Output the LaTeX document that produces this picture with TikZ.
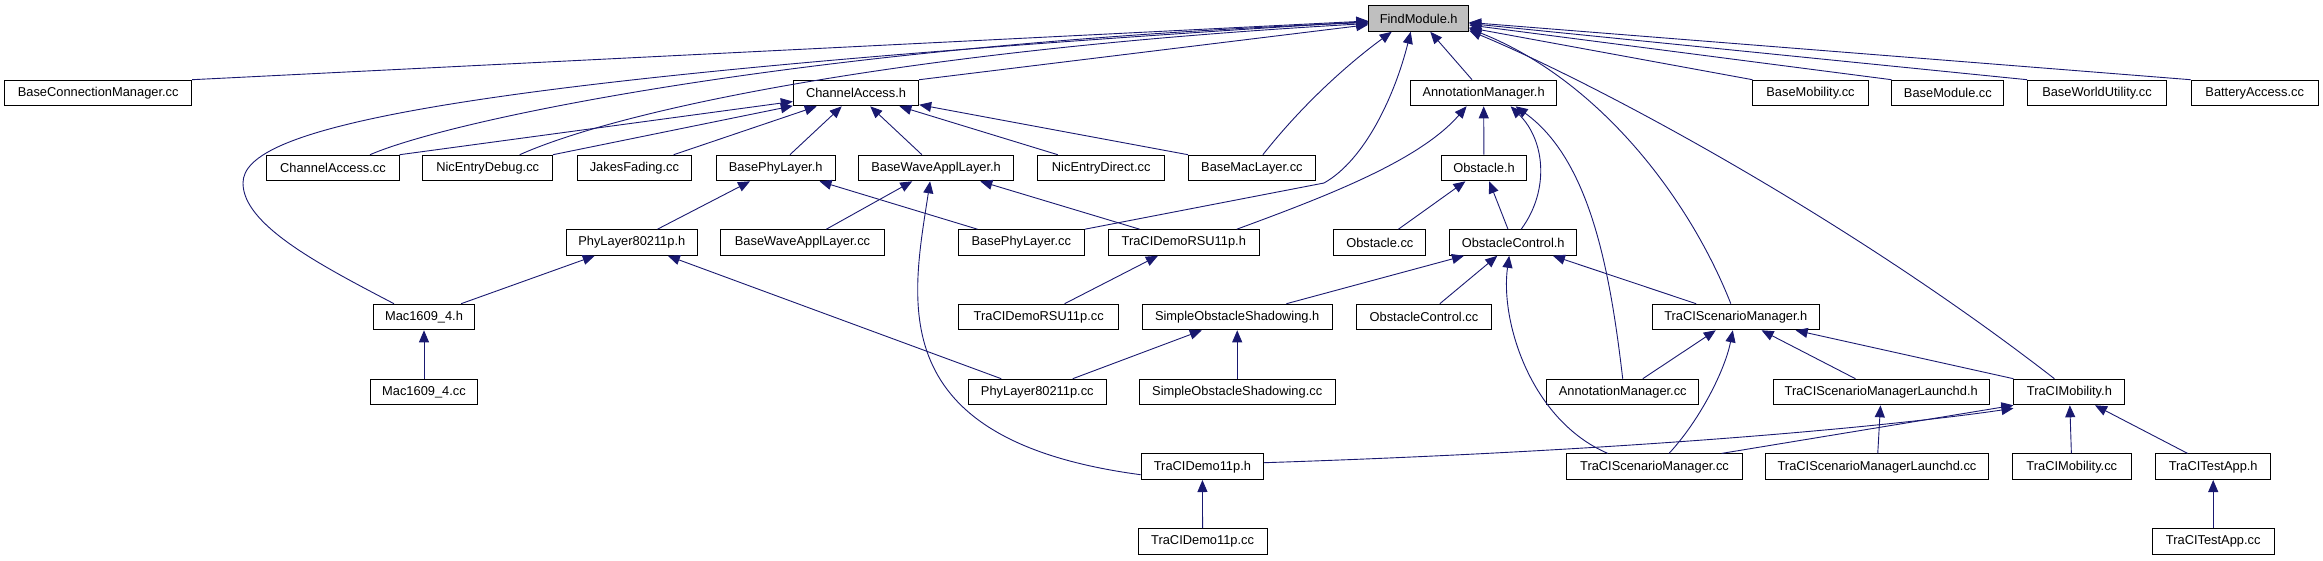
\documentclass[tikz,border=0pt]{standalone}
\usepackage{fontspec}
\setmainfont{Liberation Sans}
\usetikzlibrary{arrows.meta}
\definecolor{edgeblue}{RGB}{25,25,112}
\definecolor{rootgray}{RGB}{191,191,191}
\begin{document}
\begin{tikzpicture}[x=1pt,y=-1pt,
  box/.style={draw=black, line width=0.9pt, fill=white, minimum height=25.7pt, inner sep=0pt,
    font=\fontsize{12.85}{15}\selectfont},
  dep/.style={draw=edgeblue, line width=0.9pt, -{Triangle[length=12pt,width=10pt]}, edgeblue}]
\useasboundingbox (0,0) rectangle (2323,560);
% row 0
\node[box, fill=rootgray, minimum width=100pt] (fm) at (1418.7,18.5) {FindModule.h};
% row 1
\node[box, minimum width=187pt] (bcm) at (98.2,93) {BaseConnectionManager.cc};
\node[box, minimum width=125.5pt] (cah) at (856,93) {ChannelAccess.h};
\node[box, minimum width=145.8pt] (amh) at (1483.6,93) {AnnotationManager.h};
\node[box, minimum width=115.2pt] (bmob) at (1810.5,93) {BaseMobility.cc};
\node[box, minimum width=112pt] (bmod) at (1947.9,93) {BaseModule.cc};
\node[box, minimum width=139pt] (bwu) at (2097,93) {BaseWorldUtility.cc};
\node[box, minimum width=127.5pt] (batt) at (2254.7,93) {BatteryAccess.cc};
% row 2
\node[box, minimum width=132.5pt] (cacc) at (333,168) {ChannelAccess.cc};
\node[box, minimum width=129.7pt] (ned) at (487.7,168) {NicEntryDebug.cc};
\node[box, minimum width=114.6pt] (jf) at (634.4,168) {JakesFading.cc};
\node[box, minimum width=119pt] (bph) at (775.7,168) {BasePhyLayer.h};
\node[box, minimum width=155pt] (bwah) at (936.1,168) {BaseWaveApplLayer.h};
\node[box, minimum width=127pt] (nedir) at (1101.2,168) {NicEntryDirect.cc};
\node[box, minimum width=127pt] (bmac) at (1251.9,168) {BaseMacLayer.cc};
\node[box, minimum width=85.3pt] (obsh) at (1484,168) {Obstacle.h};
% row 3
\node[box, minimum width=130.7pt] (phyh) at (631.8,242.5) {PhyLayer80211p.h};
\node[box, minimum width=163.4pt] (bwacc) at (802.5,242.5) {BaseWaveApplLayer.cc};
\node[box, minimum width=126.3pt] (bphcc) at (1021.3,242.5) {BasePhyLayer.cc};
\node[box, minimum width=150.6pt] (rsuh) at (1183.8,242.5) {TraCIDemoRSU11p.h};
\node[box, minimum width=92.2pt] (obscc) at (1379.8,242.5) {Obstacle.cc};
\node[box, minimum width=127pt] (och) at (1513.2,242.5) {ObstacleControl.h};
% row 4
\node[box, minimum width=100.3pt] (mach) at (424,317) {Mac1609\_4.h};
\node[box, minimum width=159.6pt] (rsucc) at (1038.7,317) {TraCIDemoRSU11p.cc};
\node[box, minimum width=190pt] (sosh) at (1237.2,317) {SimpleObstacleShadowing.h};
\node[box, minimum width=135.1pt] (occ) at (1423.9,317) {ObstacleControl.cc};
\node[box, minimum width=166.6pt] (tsmh) at (1735.8,317) {TraCIScenarioManager.h};
% row 5
\node[box, minimum width=107pt] (maccc) at (424,392) {Mac1609\_4.cc};
\node[box, minimum width=137.8pt] (phycc) at (1037.3,392) {PhyLayer80211p.cc};
\node[box, minimum width=196.2pt] (soscc) at (1237.2,392) {SimpleObstacleShadowing.cc};
\node[box, minimum width=152.3pt] (amcc) at (1622.7,392) {AnnotationManager.cc};
\node[box, minimum width=216.2pt] (tsmlh) at (1881.2,392) {TraCIScenarioManagerLaunchd.h};
\node[box, minimum width=111pt] (tmh) at (2069.4,392) {TraCIMobility.h};
% row 6
\node[box, minimum width=122.7pt] (d11h) at (1202.4,466.7) {TraCIDemo11p.h};
\node[box, minimum width=175.3pt] (tsmcc) at (1654.5,466.7) {TraCIScenarioManager.cc};
\node[box, minimum width=223.1pt] (tsmlcc) at (1877,466.7) {TraCIScenarioManagerLaunchd.cc};
\node[box, minimum width=119pt] (tmcc) at (2071.8,466.7) {TraCIMobility.cc};
\node[box, minimum width=114.8pt] (tah) at (2213.2,466.7) {TraCITestApp.h};
% row 7
\node[box, minimum width=129.2pt] (d11cc) at (1202.6,541.3) {TraCIDemo11p.cc};
\node[box, minimum width=122.5pt] (tacc) at (2213.2,541.3) {TraCITestApp.cc};

\coordinate (bphbend) at (1324,183);
\coordinate (macbend) at (243,183);

% ---- edges to FindModule.h
\draw[dep] (bcm.north east) -- (fm);
\draw[dep] ([xshift=37pt]cacc.north) .. controls (450,120) and (800,45) .. ([yshift=-4pt]fm.west);
\draw[dep] ([xshift=32pt]ned.north) .. controls (620,110) and (900,50) .. ([yshift=-5pt]fm.west);
\draw[dep] ([xshift=-30pt]mach.north) .. controls (320,265) and (243,225) .. (macbend)
   .. controls (243,130) and (420,80) .. ([yshift=-3pt]fm.west);
\draw[dep] (cah.north east) -- (fm);
\draw[dep] ([xshift=11pt]bmac.north) .. controls (1310,95) and (1360,55) .. ([xshift=-27pt]fm.south);
\draw[dep] (bphcc.north east) -- (bphbend) .. controls (1365,160) and (1395,95) .. ([xshift=-8pt]fm.south);
\draw[dep] (amh) -- (fm);
\draw[dep] ([xshift=-5pt]tsmh.north) .. controls (1690,200) and (1600,80) .. ([yshift=-10pt]fm.east);
\draw[dep] ([xshift=-15pt]tmh.north) .. controls (1850,220) and (1600,85) .. ([yshift=-12pt]fm.east);
\draw[dep] (bmob.north west) -- (fm);
\draw[dep] (bmod.north west) -- (fm);
\draw[dep] (bwu.north west) -- (fm);
\draw[dep] (batt.north west) -- (fm);
% ---- edges to ChannelAccess.h
\draw[dep] (cacc.north east) -- (cah);
\draw[dep] (ned.north east) -- (cah);
\draw[dep] (jf) -- (cah);
\draw[dep] (bph) -- (cah);
\draw[dep] (bwah) -- (cah);
\draw[dep] (nedir) -- (cah);
\draw[dep] (bmac.north west) -- (cah);
% ---- BasePhyLayer.h, BaseWaveApplLayer.h
\draw[dep] (phyh) -- (bph);
\draw[dep] (bphcc) -- (bph);
\draw[dep] (bwacc) -- (bwah);
\draw[dep] (rsuh) -- (bwah);
\draw[dep] ([yshift=-8pt]d11h.west) .. controls (880,440) and (912,300) .. ([xshift=-6pt]bwah.south);
% ---- PhyLayer80211p.h, Mac1609_4.h, TraCIDemoRSU11p.h
\draw[dep] (mach) -- (phyh);
\draw[dep] (phycc) -- (phyh);
\draw[dep] (maccc) -- (mach);
\draw[dep] (rsucc) -- (rsuh);
% ---- AnnotationManager.h
\draw[dep] (obsh) -- (amh);
\draw[dep] ([xshift=53pt]rsuh.north) .. controls (1330,195) and (1420,160) .. ([xshift=-17pt]amh.south);
\draw[dep] ([xshift=8pt]och.north) .. controls (1550,190) and (1545,140) .. ([xshift=27pt]amh.south);
\draw[dep] (amcc.north) .. controls (1610,270) and (1590,160) .. ([xshift=32pt]amh.south);
% ---- Obstacle.h
\draw[dep] (obscc) -- (obsh);
\draw[dep] (och) -- (obsh);
% ---- ObstacleControl.h
\draw[dep] (sosh) -- (och);
\draw[dep] (occ) -- (och);
\draw[dep] ([xshift=-46.7pt]tsmcc.north) .. controls (1530,420) and (1500,320) .. ([xshift=-4pt]och.south);
\draw[dep] (tsmh) -- (och);
% ---- SimpleObstacleShadowing.h
\draw[dep] (phycc) -- (sosh);
\draw[dep] (soscc) -- (sosh);
% ---- TraCIScenarioManager.h
\draw[dep] (amcc) -- (tsmh);
\draw[dep] ([xshift=14.5pt]tsmcc.north) .. controls (1700,420) and (1725,370) .. ([xshift=-3pt]tsmh.south);
\draw[dep] (tsmlh) -- (tsmh);
\draw[dep] (tmh.north west) -- (tsmh);
\draw[dep] (tsmlcc) -- (tsmlh);
% ---- TraCIMobility.h
\draw[dep] ([yshift=4pt]d11h.east) .. controls (1650,450) and (1900,425) .. ([yshift=-3pt]tmh.south west);
\draw[dep] ([xshift=-21pt]tsmcc.north east) -- (tmh.south west);
\draw[dep] (tmcc) -- (tmh);
\draw[dep] (tah) -- (tmh);
% ---- leaves
\draw[dep] (d11cc) -- (d11h);
\draw[dep] (tacc) -- (tah);
\end{tikzpicture}
\end{document}
